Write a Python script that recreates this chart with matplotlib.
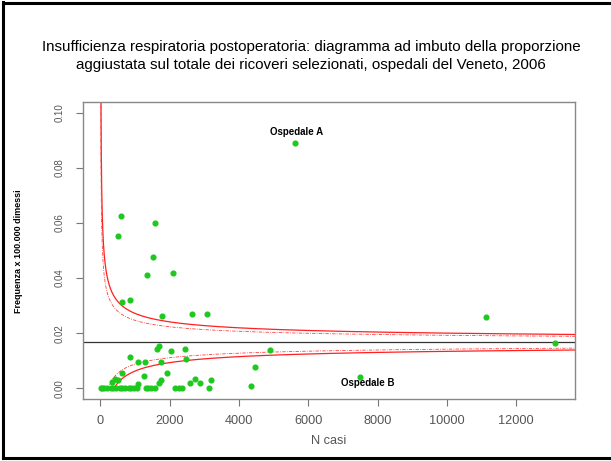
import numpy as np
import matplotlib.pyplot as plt
from matplotlib.lines import Line2D

plt.rcParams['font.family'] = ['Liberation Sans', 'DejaVu Sans']

titolo = ("Insufficienza respiratoria postoperatoria: diagramma ad imbuto della proporzione\n"
          "aggiustata sul totale dei ricoveri selezionati, ospedali del Veneto, 2006")

# ospedali: numero casi e proporzione aggiustata
n_casi = [597, 1577, 510, 1510, 1356, 2096, 626, 865, 1779, 2644, 3077,
          5605, 11135, 13124, 4884, 4451, 4336, 7499,
          1683, 1625, 2029, 2442, 846, 1096, 1288, 1750, 2461,
          616, 1269, 1923, 346, 410, 500, 1760, 1702, 1080, 2740, 2587, 2884, 3181,
          5, 30, 115, 200, 290, 375, 460, 550, 635, 720, 810, 895, 980, 1065,
          1300, 1385, 1470, 1585, 2163, 2259, 2355, 3124]
proporzione = [0.0625, 0.0600, 0.0554, 0.0475, 0.0412, 0.0419, 0.0312, 0.0321, 0.0262, 0.0268, 0.0268,
               0.0890, 0.0258, 0.0166, 0.0139, 0.0078, 0.0008, 0.0040,
               0.0154, 0.0142, 0.0136, 0.0144, 0.0113, 0.0095, 0.0095, 0.0096, 0.0106,
               0.0055, 0.0044, 0.0055, 0.0023, 0.0033, 0.0029, 0.0030, 0.0018, 0.0016, 0.0034, 0.0018, 0.0019, 0.0029,
               0, 0, 0, 0, 0, 0, 0, 0, 0, 0, 0, 0, 0, 0,
               0, 0, 0, 0, 0, 0, 0, 0]

p_medio = 0.0167
z_95 = 1.96
z_99 = 2.58

etichette = ["Ospedale A", "Ospedale B"]
pos_etichette = [(5650, 0.0931), (7720, 0.0019)]

fig = plt.figure(figsize=(6.11, 4.61), dpi=100)
ax = fig.add_axes([0.136, 0.134, 0.805, 0.645])

nn = np.linspace(2, 14500, 6000)
se = np.sqrt(p_medio * (1 - p_medio) / nn)
ax.plot(nn, p_medio + z_99 * se, color='#ff2020', lw=0.9)
ax.plot(nn, np.maximum(p_medio - z_99 * se, 0), color='#ff2020', lw=0.9)
ax.plot(nn, p_medio + z_95 * se, color='#ff4040', lw=0.6, ls=(0, (4, 1.5, 1, 1.5)))
ax.plot(nn, np.maximum(p_medio - z_95 * se, 0), color='#ff4040', lw=0.6, ls=(0, (4, 1.5, 1, 1.5)))
ax.axhline(p_medio, color='#333333', lw=0.9)

ax.plot(n_casi, proporzione, 'o', color='#1ec81e', ms=3.4, mec='#1ec81e', zorder=5)

for testo, (x, y) in zip(etichette, pos_etichette):
    ax.text(x, y, testo, ha='center', va='center', fontsize=7, fontweight='bold')

ax.set_xlim(-502, 13700)
ax.set_ylim(-0.004, 0.104)
ax.set_xticks([0, 2000, 4000, 6000, 8000, 10000, 12000])
ax.set_yticks([0.00, 0.02, 0.04, 0.06, 0.08, 0.10])
ax.set_yticklabels(['0.00', '0.02', '0.04', '0.06', '0.08', '0.10'], rotation=90, va='center')
ax.tick_params(axis='x', colors='#777777', labelcolor='#555555', labelsize=9.2, length=5, pad=6)
ax.tick_params(axis='y', colors='#777777', labelcolor='#555555', labelsize=7, length=5, pad=8)
for s in ax.spines.values():
    s.set_color('#888888')
    s.set_linewidth(1.0)

ax.set_xlabel('N casi', color='#555555', fontsize=9.2, labelpad=6)
fig.text(0.03, 0.456, 'Frequenza x 100.000 dimessi', rotation=90, ha='center', va='center',
         fontsize=6.5, fontweight='bold')

fig.text(0.509, 0.879, titolo, ha='center', va='center', fontsize=10.9, linespacing=1.32)

# cornice della pagina
fig.add_artist(Line2D([0.005, 0.005], [0.006, 0.995], color='black', lw=2.2))
fig.add_artist(Line2D([0.005, 1.0], [0.993, 0.993], color='black', lw=2.2))
fig.add_artist(Line2D([0.005, 1.0], [0.007, 0.007], color='black', lw=2.2))

fig.savefig('out.png', dpi=100)
